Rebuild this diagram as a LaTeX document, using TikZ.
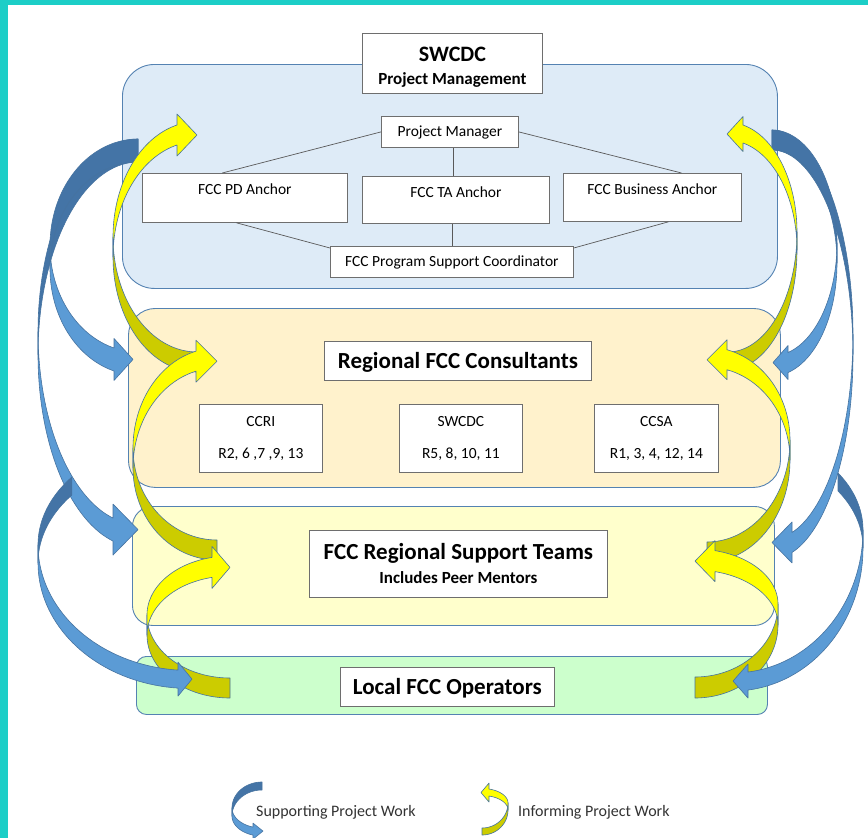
\documentclass[tikz,border=0pt]{standalone}
\usepackage{fontspec}
\setmainfont{Carlito}
\usetikzlibrary{calc}
\definecolor{cyanb}{RGB}{28,206,199}
\definecolor{laybord}{RGB}{84,130,178}
\definecolor{pmfill}{RGB}{222,235,247}
\definecolor{orfill}{RGB}{255,242,204}
\definecolor{yefill}{RGB}{255,255,204}
\definecolor{grfill}{RGB}{204,255,204}
\definecolor{bluefront}{RGB}{91,155,213}
\definecolor{blueback}{RGB}{68,116,166}
\definecolor{yelfront}{RGB}{255,255,0}
\definecolor{yelback}{RGB}{204,204,0}
\definecolor{arrline}{RGB}{70,115,160}
\definecolor{boxline}{RGB}{110,110,110}
\definecolor{conline}{RGB}{89,89,89}

% curved block arrow in a local frame: origin = centre of the ellipses
% #1 a, #2 b (back part), #3 b (front part), #4 thickness, #5 start angle,
% #6 head base offset, #7 tip offset, #8 head half width
\newcommand{\carrow}[8]{%
  \pgfmathsetmacro{\cA}{#1}%
  \pgfmathsetmacro{\cBu}{#2}%
  \pgfmathsetmacro{\cBd}{#3}%
  \pgfmathsetmacro{\cTh}{#4}%
  \pgfmathsetmacro{\cTs}{#5}%
  \pgfmathsetmacro{\cD}{#6}%
  \pgfmathsetmacro{\cDn}{-(#6)}%
  \pgfmathsetmacro{\cEn}{-(#7)}%
  \pgfmathsetmacro{\cHw}{#8}%
  \pgfmathsetmacro{\cTa}{180+acos(\cD/\cA)}%
  \pgfmathsetmacro{\cYa}{\cBd*sin(acos(\cD/\cA))}%
  \pgfmathsetmacro{\cYb}{\cYa+\cTh}%
  \pgfmathsetmacro{\cYc}{\cYa+\cTh/2}%
  \pgfmathsetmacro{\cYu}{\cYc-\cHw}%
  \pgfmathsetmacro{\cYl}{\cYc+\cHw}%
  \filldraw[backpart] plot[domain=\cTs:180,samples=40] ({\cA*cos(\x)},{-\cBu*sin(\x)})
     -- plot[domain=\cTs:180,samples=40] ({\cA*cos(180+\cTs-\x)},{\cTh-\cBu*sin(180+\cTs-\x)}) -- cycle;
  \filldraw[frontpart] plot[domain=180:\cTa,samples=40] ({\cA*cos(\x)},{-\cBd*sin(\x)})
     -- (\cDn,\cYu) -- (\cEn,\cYc) -- (\cDn,\cYl) -- (\cDn,\cYb)
     -- plot[domain=180:\cTa,samples=40] ({\cA*cos(180+\cTa-\x)},{\cTh-\cBd*sin(180+\cTa-\x)}) -- cycle;
}

\tikzset{
  layer/.style={draw=laybord, line width=0.9pt, anchor=north west, inner sep=0pt},
  ibox/.style={draw=boxline, fill=white, line width=0.8pt, anchor=north west, inner sep=0pt, align=center},
  reg/.style={font=\fontsize{15.5}{18}\selectfont},
  conn/.style={draw=conline, line width=0.7pt},
  bluearr/.style={backpart/.style={fill=blueback, draw=arrline, line width=0.6pt, line join=round},
                  frontpart/.style={fill=bluefront, draw=arrline, line width=0.6pt, line join=round}},
  yelarr/.style={backpart/.style={fill=yelback, draw=arrline, line width=0.6pt, line join=round},
                 frontpart/.style={fill=yelfront, draw=arrline, line width=0.6pt, line join=round}},
  legtext/.style={anchor=west, inner sep=0pt, font=\fontsize{16}{19}\selectfont, text=black!80, text height=10.3pt, text depth=0pt},
}

\begin{document}
\begin{tikzpicture}[x=1pt,y=-1pt]
\useasboundingbox (0,0) rectangle (868,838);
\fill[white] (0,0) rectangle (868,838);
\fill[cyanb] (0,0) rectangle (8,838);
\fill[cyanb] (0,0) rectangle (868,5);

% layers
\node[layer, fill=pmfill, rounded corners=32pt, minimum width=655pt, minimum height=224pt] (pmlayer) at (122,64) {};
\node[layer, fill=orfill, rounded corners=27pt, minimum width=652pt, minimum height=179pt] (rclayer) at (128,308) {};
\node[layer, fill=yefill, rounded corners=20pt, minimum width=642pt, minimum height=119pt] (stlayer) at (132,506) {};
\node[layer, fill=grfill, rounded corners=10pt, minimum width=631pt, minimum height=58pt] (oplayer) at (136,656) {};

% blue supporting arrows (upper)
\begin{scope}[shift={(138,331.6)}, bluearr] \carrow{100}{192.6}{192.6}{23}{90}{25}{0}{25.5} \end{scope}
\begin{scope}[shift={(138,245.5)}, bluearr] \carrow{88}{106.5}{106.5}{23}{90}{24}{5}{21} \end{scope}
\begin{scope}[shift={(772,334.4)}, xscale=-1, bluearr] \carrow{81}{204.4}{204.4}{20}{90}{20}{0}{20.5} \end{scope}
\begin{scope}[shift={(772,243)}, xscale=-1, bluearr] \carrow{65}{113}{113}{20}{90}{16}{1}{17} \end{scope}

% yellow informing arrows
\begin{scope}[shift={(197,257)}, yscale=-1, yelarr] \carrow{84}{115}{115.3}{20}{90}{20}{0}{21} \end{scope}
\begin{scope}[shift={(217,468)}, yscale=-1, yelarr] \carrow{84}{92}{100}{20}{90}{21}{0}{21} \end{scope}
\begin{scope}[shift={(230,635)}, yscale=-1, yelarr] \carrow{83}{63}{59}{20}{90}{18}{0}{21} \end{scope}
\begin{scope}[shift={(728,250)}, xscale=-1, yscale=-1, yelarr] \carrow{69}{120}{109.6}{18}{90}{15}{-1}{17.5} \end{scope}
\begin{scope}[shift={(707,460)}, xscale=-1, yscale=-1, yelarr] \carrow{83}{102}{93}{20}{90}{20}{0}{20} \end{scope}
\begin{scope}[shift={(695,625)}, xscale=-1, yscale=-1, yelarr] \carrow{83}{73}{55}{21}{90}{20}{0}{20.5} \end{scope}

% blue supporting arrows (lower)
\begin{scope}[shift={(190,545)}, bluearr] \carrow{152}{108}{125.5}{18}{141}{12}{-2}{17} \end{scope}
\begin{scope}[shift={(733,530)}, xscale=-1, bluearr] \carrow{130}{96.7}{143}{18}{143.9}{15}{0}{17} \end{scope}

% project management boxes
\node[ibox, minimum width=180pt, minimum height=60pt, font=\fontsize{17}{23}\selectfont\bfseries] (swcdc) at (362,33)
  {\rule{0pt}{23pt}{\fontsize{22}{23}\selectfont SWCDC}\\Project Management};
\node[ibox, reg, minimum width=137pt, minimum height=31pt, text height=10pt, text depth=0pt] (pm) at (381,116) {Project Manager};
\node[ibox, reg, minimum width=205pt, minimum height=49pt, text height=21pt, text depth=28pt] (pd) at (142,173) {FCC PD Anchor};
\node[ibox, reg, minimum width=187pt, minimum height=47pt, text height=21pt, text depth=26pt] (ta) at (362,176) {FCC TA Anchor};
\node[ibox, reg, minimum width=178pt, minimum height=48pt, text height=21pt, text depth=27pt] (ba) at (563,173) {FCC Business Anchor};
\node[ibox, reg, minimum width=243pt, minimum height=31pt, text height=10pt, text depth=0pt] (psc) at (330,246) {FCC Program Support Coordinator};

\draw[conn] (pm.west) -- ($(pd.north west)!0.39!(pd.north east)$);
\draw[conn] ($(ta.north west)!0.487!(ta.north east)$) coordinate (tatop) -- (tatop |- pm.south);
\draw[conn] (pm.east) -- ($(ba.north west)!0.663!(ba.north east)$);
\draw[conn] ($(pd.south west)!0.459!(pd.south east)$) -- ($(psc.north west)+(0,2)$);
\draw[conn] ($(ta.south west)!0.481!(ta.south east)$) coordinate (tabot) -- (tabot |- psc.north);
\draw[conn] ($(ba.south west)!0.59!(ba.south east)$) -- ($(psc.north east)+(0,2)$);

% regional consultants
\node[ibox, minimum width=267pt, minimum height=39pt, font=\fontsize{23}{28}\selectfont\bfseries, text height=14.8pt, text depth=0pt] (rfc) at (324,341) {Regional FCC Consultants};
\node[ibox, font=\fontsize{15.5}{32}\selectfont, minimum width=123pt, minimum height=68pt] (ccri) at (199,404) {CCRI\\R2, 6 ,7 ,9, 13};
\node[ibox, font=\fontsize{15.5}{32}\selectfont, minimum width=123pt, minimum height=68pt] (swc) at (399,404) {SWCDC\\R5, 8, 10, 11};
\node[ibox, font=\fontsize{15.5}{32}\selectfont, minimum width=124pt, minimum height=68pt] (ccsa) at (594,404) {CCSA\\R1, 3, 4, 12, 14};

% support teams
\node[ibox, minimum width=298pt, minimum height=67pt, font=\fontsize{17}{24}\selectfont\bfseries] (rst) at (309,530)
  {{\fontsize{23}{24}\selectfont FCC Regional Support Teams}\\Includes Peer Mentors};

% operators
\node[ibox, minimum width=214pt, minimum height=39pt, font=\fontsize{23}{28}\selectfont\bfseries, text height=14.8pt, text depth=0pt] (lfo) at (340,667) {Local FCC Operators};

% legend
\begin{scope}[shift={(262,808)}, bluearr] \carrow{30}{26}{20}{8}{90}{9}{-1}{8} \end{scope}
\node[legtext] (legs) at (256,811) {Supporting Project Work};
\begin{scope}[shift={(482,810)}, xscale=-1, yscale=-1, yelarr] \carrow{26}{25}{14.5}{7}{90}{7}{-1}{9.5} \end{scope}
\node[legtext] (legi) at (518,811) {Informing Project Work};
\end{tikzpicture}
\end{document}
